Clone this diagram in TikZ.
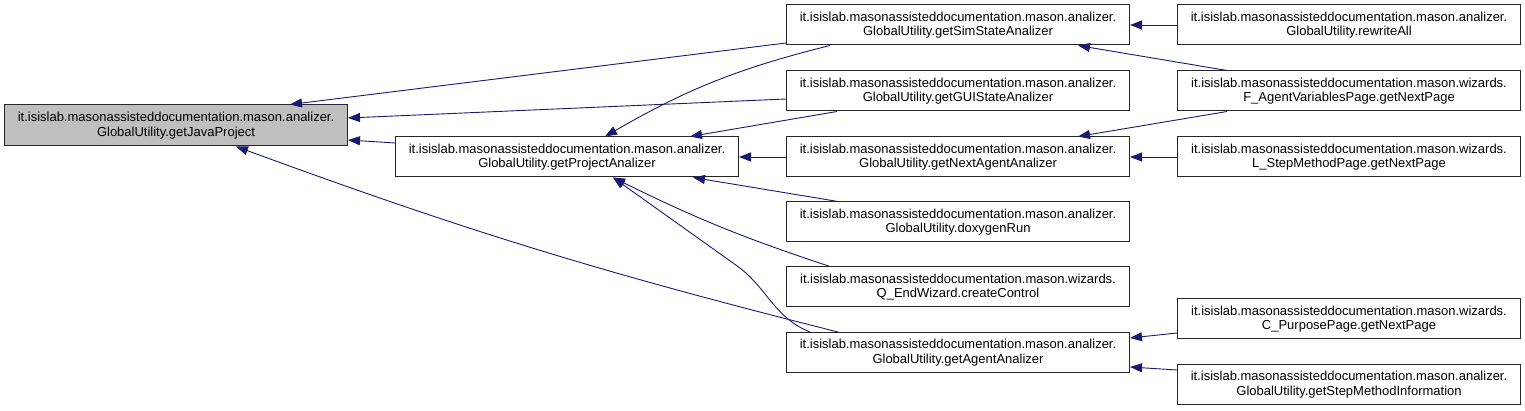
\documentclass[tikz,border=0pt]{standalone}
\usepackage{fontspec}
\setmainfont{Liberation Sans}
\usetikzlibrary{arrows.meta,positioning,calc}
\definecolor{callblue}{RGB}{25,25,112}
\definecolor{curgray}{RGB}{191,191,191}

\begin{document}
\begin{tikzpicture}[x=1pt, y=-1pt,
  fn/.style={draw=black!85, line width=1pt, rectangle, minimum width=343pt, minimum height=40pt,
    inner sep=0pt, align=center, font=\fontsize{13}{14.5}\selectfont},
  call/.style={draw=callblue, line width=0.9pt, -{Triangle[length=12pt,width=9pt,fill=callblue]}}]
  %
  \useasboundingbox (0,0) rectangle (1525,411);
  %
  \node[fn, fill=curgray, minimum height=41pt] (java) at (176,125.5) {it.isislab.masonassisteddocumentation.mason.analizer.\\GlobalUtility.getJavaProject};
  \node[fn] (project) at (567,157) {it.isislab.masonassisteddocumentation.mason.analizer.\\GlobalUtility.getProjectAnalizer};
  %
  \node[fn] (sim) at (958,25) {it.isislab.masonassisteddocumentation.mason.analizer.\\GlobalUtility.getSimStateAnalizer};
  \node[fn] (gui) at (958,91) {it.isislab.masonassisteddocumentation.mason.analizer.\\GlobalUtility.getGUIStateAnalizer};
  \node[fn] (next) at (958,157) {it.isislab.masonassisteddocumentation.mason.analizer.\\GlobalUtility.getNextAgentAnalizer};
  \node[fn] (doxy) at (958,222) {it.isislab.masonassisteddocumentation.mason.analizer.\\GlobalUtility.doxygenRun};
  \node[fn] (endwiz) at (958,287) {it.isislab.masonassisteddocumentation.mason.wizards.\\Q\_EndWizard.createControl};
  \node[fn] (agent) at (958,352.5) {it.isislab.masonassisteddocumentation.mason.analizer.\\GlobalUtility.getAgentAnalizer};
  %
  \node[fn] (rewrite) at (1349,25) {it.isislab.masonassisteddocumentation.mason.analizer.\\GlobalUtility.rewriteAll};
  \node[fn] (fvars) at (1349,91) {it.isislab.masonassisteddocumentation.mason.wizards.\\F\_AgentVariablesPage.getNextPage};
  \node[fn] (lstep) at (1349,157) {it.isislab.masonassisteddocumentation.mason.wizards.\\L\_StepMethodPage.getNextPage};
  \node[fn] (cpurp) at (1349,319) {it.isislab.masonassisteddocumentation.mason.wizards.\\C\_PurposePage.getNextPage};
  \node[fn] (stepinfo) at (1349,384.5) {it.isislab.masonassisteddocumentation.mason.analizer.\\GlobalUtility.getStepMethodInformation};
  %
  \draw[call] ([yshift=-18pt]sim.west) -- ([xshift=114pt]java.north);
  \draw[call] ([yshift=-8pt]gui.west) -- ([yshift=7.5pt]java.east);
  \draw[call] ([yshift=14pt]project.west) -- ([yshift=-14.5pt]java.east);
  \draw[call] ([xshift=-120pt]agent.north) to[bend left=3] ([xshift=60pt]java.south);
  %
  \draw[call] ([xshift=-128pt]sim.south) to[bend right=8] ([xshift=38pt]project.north);
  \draw[call] ([xshift=-121pt]gui.south) -- ([xshift=123pt]project.north);
  \draw[call] (next.west) -- (project.east);
  \draw[call] ([xshift=-120pt]doxy.north) -- ([xshift=126pt]project.south);
  \draw[call] ([xshift=-128pt]endwiz.north) to[bend left=4] ([xshift=46pt]project.south);
  \draw[call] ([xshift=-148pt]agent.north) .. controls (775,318) and (768,290) .. (740,268) -- ([xshift=46pt]project.south);
  %
  \draw[call] (rewrite.west) -- (sim.east);
  \draw[call] ([xshift=-122pt]fvars.north) -- ([xshift=120pt]sim.south);
  \draw[call] ([xshift=-122pt]fvars.south) -- ([xshift=120pt]next.north);
  \draw[call] (lstep.west) -- (next.east);
  \draw[call] ([yshift=-14pt]cpurp.west) -- ([yshift=14.5pt]agent.east);
  \draw[call] ([yshift=14.5pt]stepinfo.west) -- ([yshift=-14.5pt]agent.east);
  %
\end{tikzpicture}
\end{document}
